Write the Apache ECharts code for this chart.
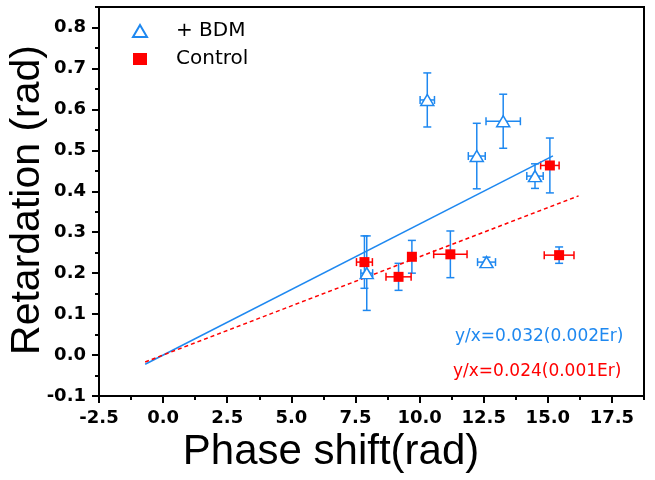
<!DOCTYPE html>
<html>
<head>
<meta charset="utf-8">
<script src="https://cdn.jsdelivr.net/npm/echarts@6/dist/echarts.min.js"></script>
<style>
  html, body { margin: 0; padding: 0; background: #fff; }
  #chart { width: 655px; height: 480px; }
</style>
</head>
<body>
<div id="chart"></div>
<script>
// + BDM series (hollow triangles)
const bdmX = [10.3, 13.26, 12.23, 14.5, 12.61, 7.94]
const bdmY = [0.623, 0.571, 0.486, 0.437, 0.227, 0.2]
const bdmXErr = [0.28, 0.67, 0.33, 0.32, 0.35, 0.23]
const bdmYErr = [0.066, 0.066, 0.08, 0.03, 0.012, 0.091]

// Control series (filled squares)
const ctrlX = [15.08, 15.44, 11.2, 9.7, 9.18, 7.85]
const ctrlY = [0.463, 0.244, 0.246, 0.24, 0.191, 0.227]
const ctrlXErr = [0.36, 0.58, 0.65, 0, 0.49, 0.31]
const ctrlYErr = [0.067, 0.02, 0.057, 0.04, 0.033, 0.064]

// fits y = k * x
const bdmSlope = 0.032
const bdmFitRange = [-0.7, 15.2]
const ctrlSlope = 0.024
const ctrlFitRange = [-0.7, 16.2]

// ticks
const xTicks = [-2.5, 0, 2.5, 5, 7.5, 10, 12.5, 15, 17.5]
const xMinorTicks = [-1.25, 1.25, 3.75, 6.25, 8.75, 11.25, 13.75, 16.25, 18.75]
const yTicks = [-0.1, 0, 0.1, 0.2, 0.3, 0.4, 0.5, 0.6, 0.7, 0.8]
const yMinorTicks = [-0.05, 0.05, 0.15, 0.25, 0.35, 0.45, 0.55, 0.65, 0.75, 0.85]

const BLUE = '#1E88F0'
const RED = '#FF0000'

const chart = echarts.init(document.getElementById('chart'))

// error bars drawn through the axis scales
const errorBars = (xs, ys, xe, ye, vColor, hColor) => ({
  type: 'custom',
  silent: true,
  z: 1,
  encode: { x: 0, y: 1 },
  data: xs.map((x, i) => [x, ys[i], xe[i], ye[i]]),
  renderItem: (params, api) => {
    const x = api.value(0), y = api.value(1)
    const dx = api.value(2), dy = api.value(3)
    const cap = 4
    const children = []
    const seg = (x1, y1, x2, y2, c) => children.push({
      type: 'line',
      shape: { x1, y1, x2, y2 },
      style: { stroke: c, lineWidth: 1.5 }
    })
    if (dy > 0) {
      const t = api.coord([x, y + dy]), b = api.coord([x, y - dy])
      seg(t[0], t[1], b[0], b[1], vColor)
      seg(t[0] - cap, t[1], t[0] + cap, t[1], vColor)
      seg(b[0] - cap, b[1], b[0] + cap, b[1], vColor)
    }
    if (dx > 0) {
      const l = api.coord([x - dx, y]), r = api.coord([x + dx, y])
      seg(l[0], l[1], r[0], r[1], hColor)
      seg(l[0], l[1] - cap, l[0], l[1] + cap, hColor)
      seg(r[0], r[1] - cap, r[0], r[1] + cap, hColor)
    }
    return { type: 'group', children }
  }
})

const fitLine = (slope, range) => range.map(x => [x, slope * x])

const tickFont = { fontFamily: 'DejaVu Sans', fontWeight: 'bold', fontSize: 18, color: '#000' }

const options = {
  animation: false,
  grid: { left: 99, right: 11, top: 7, bottom: 84, show: true, borderColor: '#000', borderWidth: 2 },
  legend: {
    orient: 'vertical',
    left: 127,
    top: 16,
    itemWidth: 14,
    itemHeight: 12,
    itemGap: 8,
    data: ['+ BDM', 'Control'],
    textStyle: { fontFamily: 'DejaVu Sans', fontSize: 20, color: '#000', padding: [0, 0, 0, 24] }
  },
  xAxis: [{
    type: 'value',
    min: -2.5,
    max: 18.75,
    splitLine: { show: false },
    axisLine: { onZero: false, lineStyle: { color: '#000', width: 2 } },
    axisTick: { customValues: xTicks, length: 7, lineStyle: { width: 2, color: '#000' } },
    axisLabel: { customValues: xTicks, margin: 13, formatter: v => v.toFixed(1), ...tickFont }
  }, {
    type: 'value',
    min: -2.5,
    max: 18.75,
    position: 'bottom',
    splitLine: { show: false },
    axisLine: { show: false, onZero: false },
    axisTick: { customValues: xMinorTicks, length: 4, lineStyle: { width: 2, color: '#000' } },
    axisLabel: { show: false }
  }],
  yAxis: [{
    type: 'value',
    min: -0.1,
    max: 0.85,
    splitLine: { show: false },
    axisLine: { onZero: false, lineStyle: { color: '#000', width: 2 } },
    axisTick: { customValues: yTicks, length: 7, lineStyle: { width: 2, color: '#000' } },
    axisLabel: { customValues: yTicks, margin: 13, formatter: v => v.toFixed(1), ...tickFont }
  }, {
    type: 'value',
    min: -0.1,
    max: 0.85,
    position: 'left',
    splitLine: { show: false },
    axisLine: { show: false, onZero: false },
    axisTick: { customValues: yMinorTicks, length: 4, lineStyle: { width: 2, color: '#000' } },
    axisLabel: { show: false }
  }],
  graphic: [{
    type: 'text',
    style: {
      x: 331, y: 452, text: 'Phase shift(rad)', align: 'center', verticalAlign: 'middle',
      fontFamily: 'Liberation Sans', fontSize: 42, fill: '#000'
    }
  }, {
    type: 'text',
    x: 28, y: 200,
    rotation: Math.PI / 2,
    style: {
      text: 'Retardation (rad)', align: 'center', verticalAlign: 'middle',
      fontFamily: 'Liberation Sans', fontSize: 41, fill: '#000'
    }
  }, {
    type: 'text',
    style: {
      x: 455, y: 337, text: 'y/x=' + bdmSlope.toFixed(3) + '(0.002Er)', verticalAlign: 'middle',
      fontFamily: 'DejaVu Sans', fontSize: 17, fill: BLUE
    }
  }, {
    type: 'text',
    style: {
      x: 453, y: 372, text: 'y/x=' + ctrlSlope.toFixed(3) + '(0.001Er)', verticalAlign: 'middle',
      fontFamily: 'DejaVu Sans', fontSize: 17, fill: RED
    }
  }],
  series: [
    {
      name: 'bdmFit',
      type: 'line',
      data: fitLine(bdmSlope, bdmFitRange),
      symbol: 'none',
      silent: true,
      lineStyle: { color: BLUE, width: 1.5 },
      z: 2
    },
    {
      name: 'ctrlFit',
      type: 'line',
      data: fitLine(ctrlSlope, ctrlFitRange),
      symbol: 'none',
      silent: true,
      lineStyle: { color: RED, width: 1.5, type: [4, 3] },
      z: 2
    },
    errorBars(bdmX, bdmY, bdmXErr, bdmYErr, BLUE, BLUE),
    errorBars(ctrlX, ctrlY, ctrlXErr, ctrlYErr, BLUE, RED),
    {
      name: '+ BDM',
      type: 'scatter',
      data: bdmX.map((x, i) => [x, bdmY[i]]),
      symbol: 'triangle',
      symbolSize: [13, 11],
      itemStyle: { color: '#fff', borderColor: BLUE, borderWidth: 1.5, opacity: 1 },
      z: 3
    },
    {
      name: 'Control',
      type: 'scatter',
      data: ctrlX.map((x, i) => [x, ctrlY[i]]),
      symbol: 'rect',
      symbolSize: 10,
      itemStyle: { color: RED, opacity: 1 },
      z: 4
    }
  ]
}

chart.setOption(options)
</script>
</body>
</html>
